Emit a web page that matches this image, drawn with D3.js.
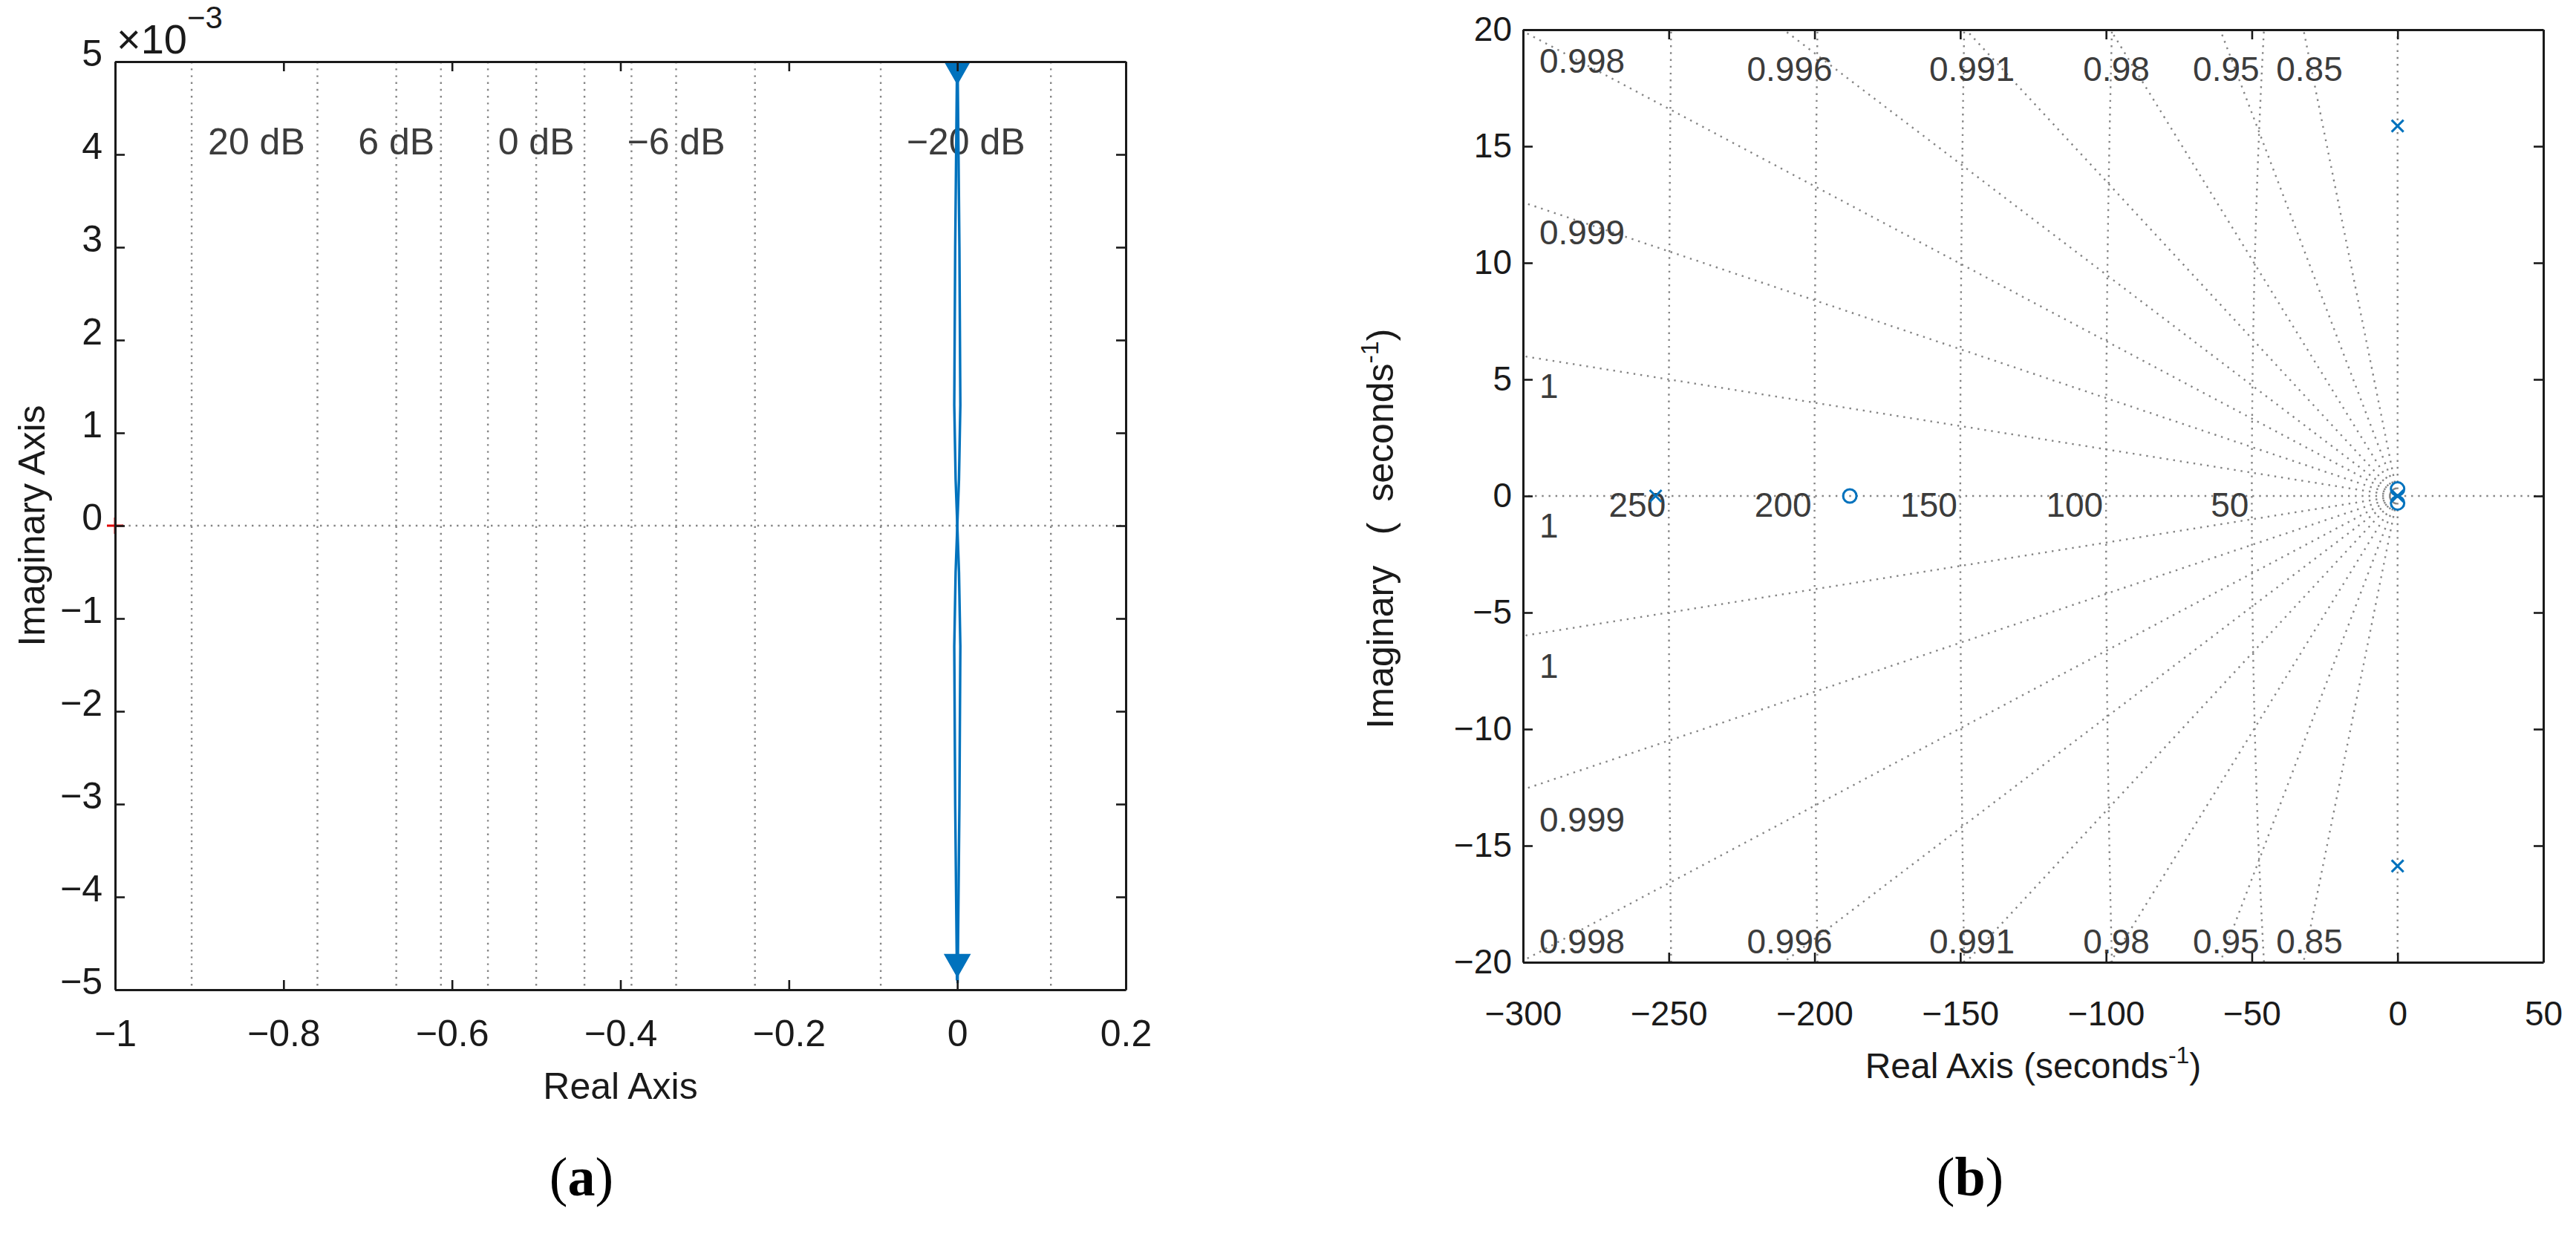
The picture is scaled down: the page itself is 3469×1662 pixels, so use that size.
<!DOCTYPE html>
<html>
<head>
<meta charset="utf-8">
<script src="https://cdn.jsdelivr.net/npm/d3@7"></script>
<style>
body { margin: 0; background: #fff; }
text { font-family: 'Liberation Sans', Arial, sans-serif; }
</style>
</head>
<body>
<div id="svg"></div>
<script>
// ---- panel (a): Nyquist diagram, imaginary values in units of 1e-3 ----
let nyqXTicks = [-1, -0.8, -0.6, -0.4, -0.2, 0, 0.2]
let nyqYTicks = [-5, -4, -3, -2, -1, 0, 1, 2, 3, 4, 5]
let mCircleDb = [20, 10, 6, 4, 2, 0, -2, -4, -6, -10, -20]
let mLabelDb = [20, 6, 0, -6, -20]
// positive-frequency branch (the negative one is its mirror image)
let nyqRe = [0.0004, 0.0025, 0.0036, 0.002, 0, -0.002, -0.0036, -0.0025, -0.0004]
let nyqIm = [4.93, 3.0, 1.3, 0.5, 0, -0.5, -1.3, -3.0, -4.9]
let arrowRe = [0, 0]
let arrowIm = [4.76, -4.86]
let criticalRe = [-1]
let criticalIm = [0]

// ---- panel (b): pole-zero map ----
let pzXTicks = [-300, -250, -200, -150, -100, -50, 0, 50]
let pzYTicks = [-20, -15, -10, -5, 0, 5, 10, 15, 20]
let dampingRatios = [1, 0.9998, 0.99912, 0.9978, 0.99552, 0.991, 0.98, 0.95, 0.85, 0]
let naturalFreqs = [50, 100, 150, 200, 250]
let poleRe = [0, 0, -254.5, 0]
let poleIm = [15.87, -15.87, 0, 0]
let zeroRe = [-187.9, 0, 0]
let zeroIm = [0, 0.3, -0.3]

let width = 3469, height = 1662
let blue = '#0072bd', ink = '#1a1a1a', gridInk = '#3c3c3c'

let svg = d3.select('#svg')
.append('svg')
.attr('width', width)
.attr('height', height)

svg.append('rect').attr('width', width).attr('height', height).style('fill', '#fff')

let boxA = {left: 155, right: 1516, top: 83, bottom: 1333}
let boxB = {left: 2051, right: 3425, top: 40, bottom: 1296}

let xA = d3.scaleLinear().domain([-1, 0.2]).range([boxA.left, boxA.right])
let yA = d3.scaleLinear().domain([-5, 5]).range([boxA.bottom, boxA.top])
let xB = d3.scaleLinear().domain([-300, 50]).range([boxB.left, boxB.right])
let yB = d3.scaleLinear().domain([-20, 20]).range([boxB.bottom, boxB.top])

function addClip(id, box) {
	svg.append('clipPath').attr('id', id)
	.append('rect')
	.attr('x', box.left).attr('y', box.top)
	.attr('width', box.right - box.left).attr('height', box.bottom - box.top)
}
addClip('clipA', boxA)
addClip('clipB', boxB)

function dotted(sel) {
	return sel.style('fill', 'none')
	.style('stroke', '#858585')
	.style('stroke-width', 2.4)
	.style('stroke-dasharray', '2.4 6.8')
}

function gridText(sel, size) {
	return sel.style('font-size', size).style('fill', gridInk)
}

// ================= panel (a) =================
let gridA = svg.append('g').attr('clip-path', 'url(#clipA)')

// M-circles: inside this tiny imaginary range each one shows as vertical lines
let mLines = []
let mLabels = []
mCircleDb.forEach(db => {
	let m = Math.pow(10, db / 20)
	let cuts
	if (db === 0) cuts = [-0.5]
	else {
		let c = -m * m / (m * m - 1), r = Math.abs(m / (m * m - 1))
		cuts = [c - r, c + r]
	}
	let seen = cuts.filter(x => x >= -1 && x <= 0.2)
	seen.forEach(x => mLines.push(x))
	if (mLabelDb.includes(db) && seen.length) {
		mLabels.push({db: db, x: d3.mean(seen)})
	}
})

gridA.selectAll('.m-line')
.data(mLines)
.join('line')
.attr('class', 'm-line')
.attr('x1', d => xA(d)).attr('x2', d => xA(d))
.attr('y1', yA(5)).attr('y2', yA(-5))
.call(dotted)

gridA.append('line')
.attr('x1', xA(-1)).attr('x2', xA(0.2))
.attr('y1', yA(0)).attr('y2', yA(0))
.call(dotted)

svg.selectAll('.m-label')
.data(mLabels)
.join('text')
.attr('class', 'm-label')
.text(d => `${d3.format('')(d.db)} dB`)
.attr('y', yA(4.14))
.attr('dy', '0.35em')
.call(gridText, 50)
.each(function(d) {
	let t = d3.select(this)
	let half = this.getComputedTextLength() / 2
	// keep labels clear of the left axis
	if (xA(d.x) - half < boxA.left + 70) t.attr('x', xA(d.x) + 22).style('text-anchor', 'start')
	else t.attr('x', xA(d.x)).style('text-anchor', 'middle')
})

// Nyquist curve, both branches
let nyqLine = d3.line().x(d => xA(d[0])).y(d => yA(d[1]))
let branch = nyqRe.map((r, i) => [r, nyqIm[i]])
let mirror = nyqRe.map((r, i) => [r, -nyqIm[i]])

svg.selectAll('.nyq')
.data([branch, mirror])
.join('path')
.attr('class', 'nyq')
.attr('d', nyqLine)
.style('fill', 'none')
.style('stroke', blue)
.style('stroke-width', 3.4)

svg.selectAll('.nyq-arrow')
.data(arrowRe.map((r, i) => [r, arrowIm[i]]))
.join('path')
.attr('class', 'nyq-arrow')
.attr('transform', d => `translate(${xA(d[0])}, ${yA(d[1])})`)
.attr('d', 'M0,0L-17,-30L17,-30Z')
.style('fill', blue)
.style('stroke', blue)
.style('stroke-width', 1.5)

svg.selectAll('.critical')
.data(criticalRe.map((r, i) => [r, criticalIm[i]]))
.join('path')
.attr('class', 'critical')
.attr('transform', d => `translate(${xA(d[0])}, ${yA(d[1])})`)
.attr('d', 'M-11,0H11M0,-11V11')
.style('stroke', '#e00000')
.style('stroke-width', 3)

// axes and box
function styleAxis(g, size) {
	g.select('.domain').style('stroke', ink).style('stroke-width', 3)
	g.selectAll('.tick line').style('stroke', ink).style('stroke-width', 2.6)
	g.selectAll('.tick text').style('font-size', size).style('fill', ink)
	.style('font-family', "'Liberation Sans', Arial, sans-serif")
}

svg.append('g')
.attr('transform', `translate(0, ${boxA.bottom})`)
.call(d3.axisBottom(xA).tickValues(nyqXTicks).tickSizeInner(-13).tickSizeOuter(0).tickPadding(40).tickFormat(d3.format('')))
.call(styleAxis, 50)

svg.append('g')
.attr('transform', `translate(0, ${boxA.top})`)
.call(d3.axisTop(xA).tickValues(nyqXTicks).tickSizeInner(-13).tickSizeOuter(0).tickFormat(''))
.call(styleAxis, 50)

svg.append('g')
.attr('transform', `translate(${boxA.left}, 0)`)
.call(d3.axisLeft(yA).tickValues(nyqYTicks).tickSizeInner(-13).tickSizeOuter(0).tickPadding(17).tickFormat(d3.format('')))
.call(styleAxis, 50)
.selectAll('.tick text').attr('dy', '0.1em')

svg.append('g')
.attr('transform', `translate(${boxA.right}, 0)`)
.call(d3.axisRight(yA).tickValues(nyqYTicks).tickSizeInner(-13).tickSizeOuter(0).tickFormat(''))
.call(styleAxis, 50)

let expo = svg.append('text')
.attr('x', boxA.left + 2)
.attr('y', 72)
.style('font-size', 56)
.style('fill', ink)
expo.append('tspan').text('×10')
expo.append('tspan').text('−3').attr('dy', -34).style('font-size', 42)

svg.append('text')
.text('Real Axis')
.attr('x', (boxA.left + boxA.right) / 2)
.attr('y', 1480)
.style('text-anchor', 'middle')
.style('font-size', 50)
.style('fill', ink)

svg.append('text')
.text('Imaginary Axis')
.attr('transform', `translate(60, ${yA(0)})rotate(-90)`)
.style('text-anchor', 'middle')
.style('font-size', 50)
.style('fill', ink)

// ================= panel (b) =================
let gridB = svg.append('g').attr('clip-path', 'url(#clipB)')

// damping-ratio rays, all starting at the origin
let rays = []
dampingRatios.forEach(z => {
	let s = Math.sqrt(1 - z * z)
	rays.push({z: z, dx: -z, dy: s})
	if (z < 1) rays.push({z: z, dx: -z, dy: -s})
})

gridB.selectAll('.ray')
.data(rays)
.join('line')
.attr('class', 'ray')
.attr('x1', xB(0)).attr('y1', yB(0))
.attr('x2', d => xB(d.dx * 2000)).attr('y2', d => yB(d.dy * 2000))
.call(dotted)

gridB.append('line')
.attr('x1', xB(0)).attr('x2', xB(50))
.attr('y1', yB(0)).attr('y2', yB(0))
.call(dotted)

// natural-frequency circles
let circLine = d3.line().x(d => xB(d[0])).y(d => yB(d[1]))
gridB.selectAll('.wn')
.data(naturalFreqs)
.join('path')
.attr('class', 'wn')
.attr('d', w => {
	let lim = Math.min(w, 20.5)
	let pts = d3.range(lim, -lim - 0.001, -lim / 200).map(y => [-Math.sqrt(Math.max(w * w - y * y, 0)), y])
	return circLine(pts)
})
.call(dotted)

svg.selectAll('.wn-label')
.data(naturalFreqs)
.join('text')
.attr('class', 'wn-label')
.text(d => d)
.attr('x', d => xB(-d) - 4)
.attr('y', yB(0) + 28)
.style('text-anchor', 'end')
.call(gridText, 46)

// damping labels where each ray enters the box
let zLabels = []
dampingRatios.filter(z => z > 0).forEach(z => {
	let slope = Math.sqrt(1 - z * z) / z
	let signs = z === 1 ? [1] : [1, -1]
	signs.forEach(sign => {
		let edgeY = 300 * slope
		if (edgeY <= 20) {
			let cy = Math.min(yB(sign * edgeY) + 40, boxB.bottom - 28)
			zLabels.push({z: z, x: boxB.left + 22, y: cy, anchor: 'start'})
		} else {
			let cx = xB(-20 / slope) + 8
			zLabels.push({z: z, x: cx, y: sign > 0 ? boxB.top + 53 : boxB.bottom - 28, anchor: 'middle'})
		}
	})
})

svg.selectAll('.z-label')
.data(zLabels)
.join('text')
.attr('class', 'z-label')
.text(d => d3.format('.3~g')(d.z))
.attr('x', d => d.x)
.attr('y', d => d.y)
.attr('dy', '0.35em')
.style('text-anchor', d => d.anchor)
.call(gridText, 46)

// poles and zeros
let marks = svg.append('g').attr('clip-path', 'url(#clipB)')
marks.selectAll('.pole')
.data(poleRe.map((r, i) => [r, poleIm[i]]))
.join('path')
.attr('class', 'pole')
.attr('transform', d => `translate(${xB(d[0])}, ${yB(d[1])})`)
.attr('d', 'M-8,-8L8,8M-8,8L8,-8')
.style('stroke', blue)
.style('stroke-width', 3)

marks.selectAll('.zero')
.data(zeroRe.map((r, i) => [r, zeroIm[i]]))
.join('circle')
.attr('class', 'zero')
.attr('cx', d => xB(d[0]))
.attr('cy', d => yB(d[1]))
.attr('r', 9)
.style('fill', 'none')
.style('stroke', blue)
.style('stroke-width', 3)

svg.append('g')
.attr('transform', `translate(0, ${boxB.bottom})`)
.call(d3.axisBottom(xB).tickValues(pzXTicks).tickSizeInner(-13).tickSizeOuter(0).tickPadding(52).tickFormat(d3.format('')))
.call(styleAxis, 46)

svg.append('g')
.attr('transform', `translate(0, ${boxB.top})`)
.call(d3.axisTop(xB).tickValues(pzXTicks).tickSizeInner(-13).tickSizeOuter(0).tickFormat(''))
.call(styleAxis, 46)

svg.append('g')
.attr('transform', `translate(${boxB.left}, 0)`)
.call(d3.axisLeft(yB).tickValues(pzYTicks).tickSizeInner(-13).tickSizeOuter(0).tickPadding(15).tickFormat(d3.format('')))
.call(styleAxis, 46)

svg.append('g')
.attr('transform', `translate(${boxB.right}, 0)`)
.call(d3.axisRight(yB).tickValues(pzYTicks).tickSizeInner(-13).tickSizeOuter(0).tickFormat(''))
.call(styleAxis, 46)

let xlabB = svg.append('text')
.attr('x', (boxB.left + boxB.right) / 2)
.attr('y', 1452)
.style('text-anchor', 'middle')
.style('font-size', 48)
.style('fill', ink)
xlabB.append('tspan').text('Real Axis (seconds')
xlabB.append('tspan').text('-1').attr('dy', -20).style('font-size', 32)
xlabB.append('tspan').text(')').attr('dy', 20)

let ylabB = svg.append('text')
.attr('transform', `translate(1876, 712)rotate(-90)`)
.style('text-anchor', 'middle')
.style('font-size', 50)
.style('fill', ink)
.style('white-space', 'pre')
ylabB.append('tspan').text('Imaginary   (  seconds')
ylabB.append('tspan').text('-1').attr('dy', -20).style('font-size', 34)
ylabB.append('tspan').text(')').attr('dy', 20)

// panel captions
let captions = [{t: 'a', x: 783}, {t: 'b', x: 2653}]
captions.forEach(c => {
	let cap = svg.append('text')
	.attr('x', c.x)
	.attr('y', 1610)
	.style('text-anchor', 'middle')
	.style('font-family', "'Liberation Serif', 'Times New Roman', serif")
	.style('font-size', 74)
	.style('fill', '#000')
	cap.append('tspan').text('(')
	cap.append('tspan').text(c.t).style('font-weight', 'bold')
	cap.append('tspan').text(')')
})
</script>
</body>
</html>
